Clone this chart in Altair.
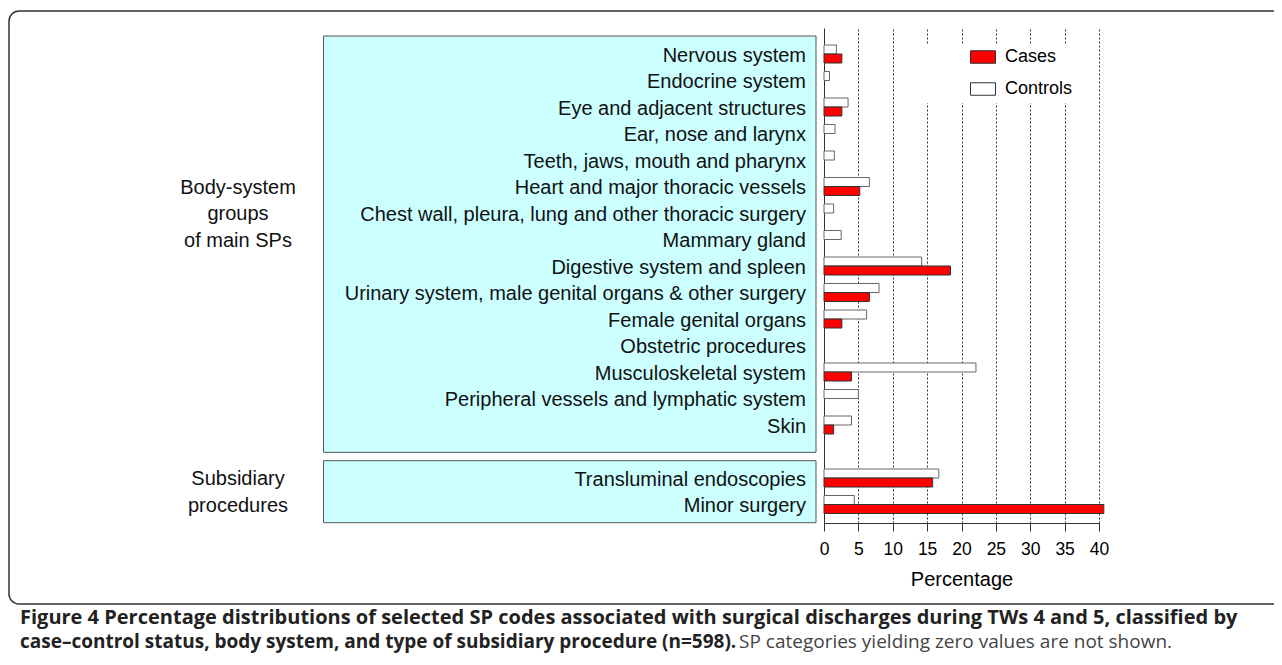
import altair as alt
import pandas as pd

# ---------------- data ----------------
categories = [
    "Nervous system",
    "Endocrine system",
    "Eye and adjacent structures",
    "Ear, nose and larynx",
    "Teeth, jaws, mouth and pharynx",
    "Heart and major thoracic vessels",
    "Chest wall, pleura, lung and other thoracic surgery",
    "Mammary gland",
    "Digestive system and spleen",
    "Urinary system, male genital organs & other surgery",
    "Female genital organs",
    "Obstetric procedures",
    "Musculoskeletal system",
    "Peripheral vessels and lymphatic system",
    "Skin",
    "Transluminal endoscopies",
    "Minor surgery",
]
groups = ["body"] * 15 + ["sub"] * 2
cases = [2.6, 0, 2.6, 0, 0, 5.2, 0, 0, 18.4, 6.6, 2.6, 0, 4.0, 0, 1.4, 15.8, 40.7]
controls = [1.8, 0.8, 3.5, 1.6, 1.5, 6.6, 1.4, 2.5, 14.2, 8.0, 6.2, 0, 22.1, 5.0, 4.0, 16.7, 4.4]
x_ticks = [0, 5, 10, 15, 20, 25, 30, 35, 40]
body_group_lines = ["Body-system", "groups", "of main SPs"]
sub_group_lines = ["Subsidiary", "procedures"]
caption_line1 = ("Figure 4 Percentage distributions of selected SP codes associated with "
                 "surgical discharges during TWs 4 and 5, classified by")
caption_line2_bold = ("case\u2013control status, body system, and type of subsidiary "
                      "procedure (n=598).")
caption_line2_normal = "SP categories yielding zero values are not shown."

# rows: one empty slot between the two groups
rows = []
for i, g in enumerate(groups):
    rows.append(i + (1 if g == "sub" else 0))

labels_df = pd.DataFrame({"category": categories, "row": rows})
long_rows = []
for c, r, vc, vk in zip(categories, rows, cases, controls):
    long_rows.append({"category": c, "row": r, "series": "Cases", "value": vc})
    long_rows.append({"category": c, "row": r, "series": "Controls", "value": vk})
long_df = pd.DataFrame(long_rows)

body_rows = [r for r, g in zip(rows, groups) if g == "body"]
sub_rows = [r for r, g in zip(rows, groups) if g == "sub"]
mid_body = body_rows[5]
glab = pd.DataFrame({
    "text": body_group_lines + sub_group_lines,
    "row": [mid_body, mid_body + 1, mid_body + 2] + sub_rows,
})

# ---------------- layout ----------------
W, H = 275, 495
ROW_PX = 26.5
FIRST = 26.0
y_dom = [-FIRST / ROW_PX, (H - FIRST) / ROW_PX]
FONT = "Liberation Sans"

xscale = alt.Scale(domain=[0, 40], nice=False, zero=True, padding=0)
yscale = alt.Scale(domain=y_dom, reverse=True, nice=False, zero=False, padding=0)

xaxis = alt.Axis(values=x_ticks, grid=True, gridDash=[2, 2], gridColor="#333",
                 gridWidth=1, tickSize=8, tickColor="#333", domainColor="#333",
                 labelFontSize=17.5, labelFont=FONT, labelColor="black",
                 labelFlush=False, labelOverlap=False,
                 labelPadding=9, title="Percentage", titleFont=FONT,
                 titleFontSize=20, titleFontWeight="normal", titleColor="black",
                 titlePadding=12)
yaxis = alt.Axis(labels=False, ticks=False, grid=False, title=None,
                 domainColor="#333")

fill_scale = alt.Scale(domain=["Cases", "Controls"], range=["#ff0000", "#ffffff"])
legend = alt.Legend(orient="none", legendX=146, legendY=16, title=None,
                    symbolType="M-1,-0.5H1V0.5H-1Z", symbolSize=625,
                    symbolStrokeColor="#333", symbolStrokeWidth=1,
                    labelFontSize=18, labelFont=FONT, labelColor="black",
                    labelOffset=9, rowPadding=10, padding=0)

dummy = pd.DataFrame({"a": [0]})

border = alt.Chart(dummy).mark_rect(
    filled=False, stroke="#333", strokeWidth=1.5, cornerRadius=10
).encode(x=alt.value(-815), x2=alt.value(470), y=alt.value(-17), y2=alt.value(576))

box_body = alt.Chart(dummy).mark_rect(fill="#ccffff", stroke="#555", strokeWidth=1).encode(
    x=alt.value(-500.5), x2=alt.value(-8), y=alt.value(8), y2=alt.value(424.3))
box_sub = alt.Chart(dummy).mark_rect(fill="#ccffff", stroke="#555", strokeWidth=1).encode(
    x=alt.value(-500.5), x2=alt.value(-8), y=alt.value(432.7), y2=alt.value(494.7))

legend_bg = alt.Chart(dummy).mark_rect(fill="white").encode(
    x=alt.value(96), x2=alt.value(266), y=alt.value(17), y2=alt.value(75))

base = alt.Chart(long_df)
controls_bar = base.transform_filter(
    "datum.series == 'Controls' && datum.value > 0"
).mark_bar(orient="horizontal", size=9, yOffset=-4.5, stroke="#666", strokeWidth=1).encode(
    x=alt.X("value:Q", scale=xscale, axis=xaxis),
    y=alt.Y("row:Q", scale=yscale, axis=yaxis),
    fill=alt.Fill("series:N", scale=fill_scale, legend=legend),
)
cases_bar = base.transform_filter(
    "datum.series == 'Cases' && datum.value > 0"
).mark_bar(orient="horizontal", size=9, yOffset=4.5, stroke="#333", strokeWidth=1).encode(
    x=alt.X("value:Q", scale=xscale, axis=xaxis),
    y=alt.Y("row:Q", scale=yscale, axis=yaxis),
    fill=alt.Fill("series:N", scale=fill_scale, legend=legend),
)

row_labels = alt.Chart(labels_df).mark_text(
    align="right", baseline="middle", font=FONT, fontSize=20, color="#111", dy=1.5
).encode(x=alt.value(-18), y=alt.Y("row:Q", scale=yscale, axis=yaxis), text="category:N")

group_labels = alt.Chart(glab).mark_text(
    align="center", baseline="middle", font=FONT, fontSize=20, color="#111", dy=1
).encode(x=alt.value(-586), y=alt.Y("row:Q", scale=yscale, axis=yaxis), text="text:N")

cap1 = alt.Chart(dummy).mark_text(
    align="left", baseline="middle", font="Open Sans", fontSize=20, fontWeight="bold",
    color="#222", text=caption_line1
).encode(x=alt.value(-804), y=alt.value(590))
cap2a = alt.Chart(dummy).mark_text(
    align="left", baseline="middle", font="Open Sans", fontSize=19, fontWeight="bold",
    color="#222", text=caption_line2_bold
).encode(x=alt.value(-804), y=alt.value(614))
cap2b = alt.Chart(dummy).mark_text(
    align="left", baseline="middle", font="Open Sans", fontSize=19, fontWeight="normal",
    color="#444", text=caption_line2_normal
).encode(x=alt.value(-85), y=alt.value(614))

chart = alt.layer(
    border, box_body, box_sub, legend_bg, controls_bar, cases_bar,
    row_labels, group_labels, cap1, cap2a, cap2b
).properties(
    width=W, height=H,
    autosize=alt.AutoSizeParams(type="none"),
    padding={"left": 816, "top": 20, "right": 175, "bottom": 134},
    background="white",
).configure_view(stroke=None)

chart.save("out.html", embed_options={"renderer": "svg", "actions": False})
